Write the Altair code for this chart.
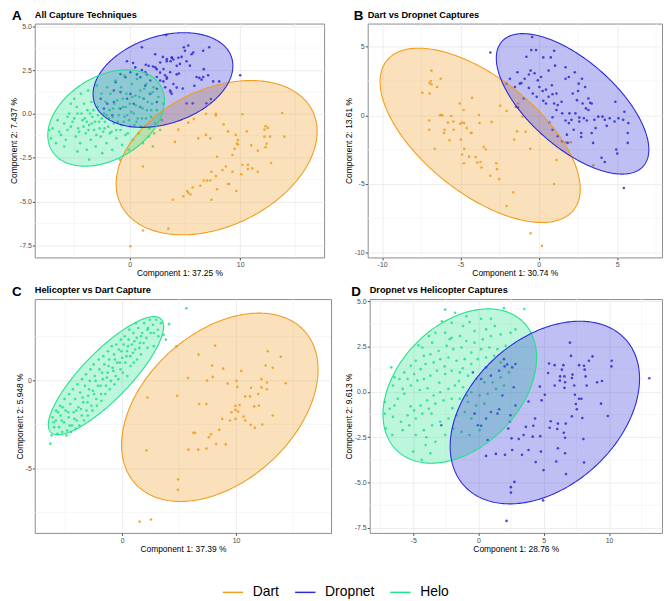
import altair as alt
import numpy as np
import pandas as pd

FONT = "Liberation Sans"
GROUPS = ["Dart", "Dropnet", "Helo"]
COLORS = ["#F39C1E", "#2C2CD8", "#22E28A"]
COLOR_OF = dict(zip(GROUPS, COLORS))

# ---------------- Panel A : All Capture Techniques ----------------
A_DART = [(13.8,0.05),(14.0,-1.3),(10.2,-0.02),(7.8,0.0),(7.8,-0.1),(12.3,-0.7),(12.2,-0.9),(12.5,-0.8),
          (8.5,-0.6),(8.9,-1.0),(10.6,-1.0),(6.9,-1.2),(7.3,-1.4),(6.2,-1.4),(9.6,-1.2),(9.8,-1.5),(9.7,-1.7),
          (9.8,-1.75),(9.5,-2.0),(12.2,-1.3),(12.7,-1.3),(12.4,-1.7),(12.3,-1.9),(11.0,-1.8),(11.6,-2.1),
          (4.1,-1.6),(9.3,-2.35),(7.9,-2.45),(10.2,-2.9),(10.7,-2.9),(11.1,-3.1),(10.7,-3.15),(10.1,-3.45),
          (8.7,-3.0),(8.4,-3.2),(9.3,-3.3),(9.0,-4.0),(11.6,-3.3),(12.8,-2.8),(7.4,-3.3),(7.8,-3.55),(6.4,-4.1),
          (6.7,-3.8),(7.0,-3.8),(7.3,-3.8),(5.7,-4.2),(7.9,-4.3),(8.9,-4.0),(9.65,-4.4),(5.2,-4.4),(5.3,-4.5),
          (4.85,-4.7),(5.5,-4.6),(3.9,-4.9),(7.4,-4.9),(3.5,-6.55),(1.2,-3.0),(1.2,-6.65),(0.06,-7.55),
          (5.3,-0.5),(4.4,-0.9),(5.8,-0.3),(6.9,0.0)]
A_DROPNET = [(3.3,4.5),(1.1,3.8),(2.3,3.4),(3.0,3.25),(3.35,3.0),(3.8,3.2),(3.95,3.1),(3.7,3.0),(4.7,3.25),
             (5.0,3.6),(5.6,3.4),(5.75,3.5),(4.9,3.8),(4.4,3.2),(5.15,3.0),(5.45,2.75),(4.55,2.85),(7.2,3.8),
             (6.65,3.6),(5.3,3.9),(-0.25,3.0),(0.3,2.9),(0.5,2.65),(1.45,2.8),(2.1,2.7),(2.45,2.55),(2.75,2.35),
             (3.2,2.2),(3.35,2.0),(3.05,1.85),(2.45,2.1),(1.55,2.25),(1.1,2.5),(0.65,2.25),(4.25,2.25),(4.45,2.3),
             (3.95,1.7),(3.7,1.25),(3.8,1.15),(4.25,1.5),(4.8,1.45),(5.7,0.6),(5.85,1.6),(6.05,2.1),(6.3,2.05),
             (6.5,1.95),(6.65,2.1),(7.1,2.2),(6.7,2.55),(7.55,1.85),(8.1,1.85),(7.35,0.85),(6.95,0.6),(5.15,0.6),
             (10.0,2.2),(-1.28,1.8),(-0.84,2.27),(-0.39,2.09),(0.06,2.37),(0.96,2.09),(1.41,2.37),(1.71,2.74),
             (2.31,2.65),(2.76,2.93),(3.36,3.12),(3.81,3.21),(4.26,2.74),(3.66,2.37),(3.06,2.56),(3.36,2.09),
             (2.76,1.9),(1.86,1.9),(1.41,1.61),(2.46,1.43),(3.21,1.52),(3.66,1.33),(1.86,1.14),(1.26,0.86),
             (0.06,1.14),(-0.84,1.24),(-1.44,1.33),(-0.24,0.86),(0.36,0.58),(0.96,0.39),(2.46,0.68),(-0.84,0.3),
             (-1.44,0.68),(-2.03,0.58),(-2.63,0.86),(-2.34,0.3),(-1.58,-0.08)]
A_HELO = [(-7.28,-0.92),(-6.98,-0.83),(-7.13,-1.39),(-6.53,-0.36),(-6.38,-1.02),(-6.23,-1.2),(-5.93,-0.55),
          (-5.78,-1.48),(-5.63,-0.92),(-5.48,0.02),(-5.33,0.58),(-5.18,-0.45),(-5.03,0.86),(-4.88,-1.3),
          (-4.73,0.02),(-4.67,-0.83),(-4.49,-1.67),(-4.43,1.15),(-4.28,-0.36),(-4.13,0.58),(-3.98,-1.11),
          (-3.89,-2.05),(-3.83,0.21),(-3.77,1.33),(-3.68,-0.64),(-3.53,-1.48),(-3.47,0.68),(-3.38,-0.17),
          (-3.23,-0.92),(-3.08,-1.86),(-2.99,1.62),(-2.93,0.39),(-2.78,-0.45),(-2.63,-1.3),(-2.57,1.15),
          (-2.49,-2.24),(-2.34,0.02),(-2.28,-0.83),(-2.19,0.68),(-2.1,-1.67),(-2.04,1.52),(-1.89,-0.26),
          (-1.8,-1.11),(-1.74,1.15),(-1.59,-2.05),(-1.5,0.3),(-1.44,-0.55),(-1.29,1.9),(-1.2,-1.39),(-1.14,0.77),
          (-0.99,-0.08),(-0.9,-2.61),(-0.84,-0.92),(-0.78,1.52),(-0.69,-1.77),(-0.6,0.39),(-0.54,-0.45),
          (-0.48,2.18),(-0.39,-1.2),(-0.3,1.15),(-0.24,-0.08),(-0.09,-2.05),(0.0,0.58),(0.06,-0.73),(0.21,1.71),
          (0.3,-1.48),(0.36,0.02),(0.51,1.05),(0.6,-0.45),(0.66,1.99),(0.81,-1.11),(0.9,0.39),(0.96,1.33),
          (1.11,-0.26),(1.2,-1.67),(1.26,0.86),(1.41,-0.73),(1.5,1.71),(1.56,0.21),(1.71,-1.3),(1.8,1.15),
          (1.92,-0.17),(2.01,0.58),(2.1,-1.86),(2.16,1.52),(2.31,-0.55),(2.46,0.21),(2.6,0.96),(2.75,-0.92),
          (2.9,-0.36),(3.05,0.58),(-5.63,-0.17),(-5.33,-0.73),(-5.03,-0.26),(-4.79,0.39),(-4.58,-1.02),
          (-4.37,0.02),(-4.19,-0.73),(-4.07,-0.26),(-3.89,-0.45),(-3.74,-0.92),(-3.59,0.02),(-3.44,-0.55),
          (-3.29,0.21),(-3.14,-0.45),(-3.02,-1.2),(-2.87,-0.08),(-2.72,-0.83),(-2.54,-0.26),(-2.4,-1.02),
          (-2.25,-0.45),(-2.1,-0.08),(-1.95,-0.73),(-1.83,0.21),(-1.65,-1.02),(-1.53,-0.17),(-1.38,0.58),
          (-1.23,-0.92),(-1.08,-0.45),(-0.93,0.3),(-0.75,-0.64),(-0.63,0.86),(-0.48,-0.17),(-0.36,0.39),
          (-0.18,-1.11),(-0.06,-0.36),(0.12,0.11),(0.24,0.96),(0.42,-0.64),(0.54,0.49),(0.72,-0.26),(0.87,0.96),
          (1.02,-0.73),(1.17,0.3),(1.32,1.43),(1.47,-0.26),(1.62,0.68),(1.77,-0.83),(1.95,0.21),(2.07,1.24),
          (2.22,-1.11),(-3.68,-2.61),(-4.73,-2.14),(-5.93,-1.86),(-6.68,-1.67)]

# ---------------- Panel B : Dart vs Dropnet ----------------
B_DART = [(-6.85,3.25),(-6.89,2.49),(-6.97,2.34),(-6.85,2.25),(-7.43,1.63),(-6.49,2.06),(-6.26,2.66),(-6.97,1.58),
          (-6.99,-0.38),(-6.99,-1.05),(-6.22,0.02),(-6.3,0.0),(-6.16,0.0),(-5.59,-0.05),(-5.8,-0.53),(-5.45,-0.45),
          (-6.01,-1.05),(-6.05,-1.29),(-6.64,-2.44),(-5.7,-1.82),(-5.43,-1.05),(-5.05,0.86),(-4.8,0.38),
          (-4.26,1.27),(-5.01,-0.62),(-4.76,-0.57),(-4.89,-0.53),(-4.59,-0.93),(-4.34,-1.29),(-4.97,-1.77),
          (-4.76,-2.44),(-4.89,-2.85),(-4.78,-3.49),(-4.45,-3.01),(-4.28,-1.29),(-3.82,0.02),(-3.78,-0.57),
          (-4.03,-3.04),(-3.92,-3.44),(-3.72,-3.4),(-3.65,-3.8),(-3.51,-2.3),(-3.38,-2.49),(-3.09,-4.4),
          (-3.01,-0.48),(-2.71,-3.49),(-2.67,-3.92),(-2.46,0.69),(-2.53,-4.64),(-2.05,0.31),(-1.38,-1.17),
          (-1.57,-1.77),(-1.04,-0.1),(-0.84,-1.2),(-2.05,-6.6),(-1.63,-5.6),(-0.54,-2.44),(-0.52,-8.59),
          (0.21,-9.5),(0.98,-5.0),(1.13,-3.25),(1.71,-1.96),(2.03,-1.96),(-1.32,0.86),(3.49,-3.64)]
B_DROPNET = [(-3.09,4.57),(-0.42,5.69),(-0.48,4.74),(-0.17,4.74),(-0.79,4.26),(-0.52,3.25),(-0.27,3.06),
             (-0.63,2.97),(-0.9,2.66),(-1.21,2.3),(-1.84,2.66),(-2.05,2.3),(-1.52,2.06),(-0.96,1.22),(-1.11,2.34),
             (-0.63,1.99),(0.29,4.21),(0.77,4.21),(0.98,4.69),(1.04,3.61),(0.63,3.25),(0.84,2.18),(0.46,1.87),
             (0.63,1.34),(0.25,1.77),(0.29,1.05),(0.46,0.86),(0.88,1.53),(1.13,1.58),(1.21,0.74),(1.46,0.98),
             (1.71,2.66),(1.92,2.78),(2.17,1.58),(2.3,3.13),(2.55,2.3),(2.76,2.66),(2.96,2.06),(2.51,1.77),
             (2.44,1.1),(2.8,0.86),(3.01,0.5),(3.17,1.22),(3.28,0.91),(3.38,0.86),(1.96,0.14),(1.5,0.14),
             (1.13,0.38),(0.98,0.86),(1.71,-0.38),(1.92,-0.57),(2.09,-0.33),(2.34,0.14),(2.59,-0.17),(2.59,-0.45),
             (2.88,-0.22),(3.07,-0.38),(3.17,0.38),(3.55,-0.33),(3.63,-0.93),(3.8,-0.1),(4.07,-0.1),(4.22,-0.33),
             (4.34,-0.77),(4.53,-0.22),(4.89,0.98),(4.84,-0.45),(5.09,-0.22),(5.39,-0.33),(5.47,0.26),(5.72,-0.57),
             (5.68,-1.29),(5.68,-2.01),(4.95,-2.49),(5.01,-2.78),(4.22,-3.4),(4.01,-3.09),(3.47,-2.01),(3.38,-1.29),
             (2.71,-1.29),(2.71,-1.58),(2.23,-1.05),(1.8,-1.41),(1.84,-2.01),(1.5,-1.89),(1.21,-1.53),(0.88,-1.05),
             (0.88,-0.14),(0.67,-0.53),(5.43,-5.29),(-1.36,3.13),(-1.46,0.62),(-1.32,0.57),(-0.06,2.54),
             (0.04,2.06),(-0.38,1.58),(-0.13,1.34),(0.15,2.78),(1.71,3.49)]

# ---------------- Panel C : Helicopter vs Dart ----------------
C_HELO = [(3.41,3.27),(3.13,2.89),(2.98,3.46),(2.7,3.18),(2.5,2.71),(2.27,2.99),(2.13,2.43),(1.93,3.27),(1.76,2.71),
          (1.56,2.14),(1.42,2.99),(1.28,2.43),(1.14,1.77),(0.99,2.71),(0.85,2.05),(0.71,1.39),(0.57,2.33),
          (0.43,1.67),(0.28,1.02),(0.14,2.05),(0.0,1.3),(-0.14,0.64),(-0.28,1.77),(-0.43,1.02),(-0.57,0.26),
          (-0.71,1.49),(-0.85,0.73),(-0.99,-0.02),(-1.14,1.2),(-1.28,0.45),(-1.42,-0.3),(-1.56,0.92),(-1.7,0.08),
          (-1.85,-0.77),(-1.99,0.64),(-2.13,-0.3),(-2.27,-1.05),(-2.41,0.26),(-2.56,-0.58),(-2.7,-1.43),
          (-2.84,-0.02),(-2.98,-0.86),(-3.13,-1.71),(-3.27,-0.3),(-3.41,-1.24),(-3.55,-1.99),(-3.69,-0.68),
          (-3.84,-1.52),(-3.98,-2.27),(-4.12,-1.05),(-4.26,-1.8),(-4.4,-2.56),(-4.55,-1.33),(-4.69,-2.09),
          (-4.83,-2.84),(-4.97,-1.71),(-5.11,-2.37),(-5.26,-2.93),(-5.4,-1.99),(-5.54,-2.65),(-5.68,-3.03),
          (-5.82,-2.27),(-5.97,-2.65),(-6.11,-2.09),(3.18,2.52),(2.78,1.96),(2.44,3.46),(2.22,1.86),(1.88,2.14),
          (1.65,1.49),(1.31,1.2),(1.19,3.27),(1.02,1.02),(0.74,0.83),(0.63,2.9),(0.45,0.26),(0.23,2.52),
          (0.06,0.45),(-0.11,2.33),(-0.34,0.08),(-0.51,2.05),(-0.68,-0.21),(-0.91,1.96),(-1.08,-0.49),
          (-1.25,1.67),(-1.48,-0.77),(-1.65,1.39),(-1.82,-1.15),(-2.05,1.2),(-2.22,-1.43),(-2.5,0.92),
          (-2.61,-1.71),(-2.78,0.64),(-3.01,-1.99),(-3.18,0.36),(-3.35,-2.27),(-3.52,0.08),(-3.75,-2.56),
          (-3.92,-0.21),(-4.09,-2.74),(-4.32,-0.49),(-4.49,-2.93),(-4.66,-0.77),(-4.89,-3.12),(-5.06,-1.05),
          (-5.23,-1.52),(-5.45,-1.43),(-5.63,-1.8),(-5.8,-1.71),(-6.02,-2.37),(-6.19,-3.12),(-6.31,-3.59),
          (-4.6,-2.56),(-4.03,-1.71),(-3.47,-0.96),(-2.9,-0.49),(-2.33,-0.02),(-1.76,0.45),(-1.19,0.83),
          (-0.63,1.2),(-0.06,1.67),(0.51,1.96),(1.08,2.24),(1.65,2.52),(2.22,2.9),(2.78,2.71),(-2.47,-0.77),
          (-1.9,-0.3),(-1.34,0.17),(-0.77,0.55),(-0.2,1.02),(0.37,1.39),(0.94,1.58),(1.51,1.86),(-3.04,-1.24),
          (-3.61,-1.62),(-4.18,-2.18),(-4.74,-1.8),(-5.31,-2.27),(5.63,4.12),(4.12,3.21),(4.77,1.96),(3.84,2.33),
          (3.64,2.61)]
C_DART = [(8.15,1.99),(6.7,1.48),(5.77,0.15),(7.44,0.0),(7.95,0.21),(7.9,0.86),(8.86,0.68),(9.26,-0.17),
          (10.03,-0.02),(10.45,0.55),(10.11,-0.36),(10.8,-0.9),(11.22,-0.9),(11.31,-0.41),(11.59,-1.47),
          (11.93,-0.77),(11.99,-1.43),(12.22,-0.39),(12.7,-0.49),(12.7,-0.11),(12.78,1.67),(12.59,0.86),
          (13.21,0.73),(13.92,1.35),(14.35,-0.15),(13.21,-1.99),(12.3,-2.5),(11.65,-2.69),(10.8,-2.27),
          (9.94,-2.18),(9.46,-2.27),(8.78,-2.18),(8.52,-2.8),(7.81,-3.06),(7.61,-3.23),(6.25,-2.97),(6.39,-2.97),
          (7.39,-3.87),(5.82,-3.93),(6.68,-3.93),(8.24,-3.61),(9.09,-3.63),(9.94,-1.67),(10.17,-1.77),
          (10.31,-1.39),(9.94,-1.43),(7.39,-1.33),(6.76,-1.33),(2.22,-0.96),(2.13,-3.97),(4.83,-0.86),
          (4.91,-5.62),(4.89,-6.22),(1.53,-8.03),(2.53,-7.91),(9.6,-1.8),(12.22,0.08),(11.28,-2.52),(10.65,-2.05)]

# ---------------- Panel D : Dropnet vs Helicopter ----------------
D_HELO = [(-2.55,4.53),(-1.8,4.35),(-0.93,4.16),(-0.68,3.84),(0.2,4.02),(0.95,4.02),(1.95,4.62),(3.5,4.56),
          (1.25,3.62),(0.58,3.44),(-0.3,3.35),(-1.18,3.62),(-2.05,3.8),(-2.8,3.89),(-3.55,2.71),(-4.3,2.44),
          (-4.6,2.56),(-3.8,3.07),(-3.3,3.25),(-2.55,3.25),(-2.05,2.98),(-1.43,3.07),(-0.93,2.8),(-0.3,2.71),
          (0.33,2.89),(0.95,3.07),(1.7,3.16),(2.45,3.25),(2.83,3.44),(2.08,2.53),(1.45,2.35),(0.83,2.44),
          (0.2,2.35),(-0.55,2.16),(-1.3,2.44),(-1.93,2.35),(-2.43,2.53),(-3.05,2.25),(-3.68,2.07),(-4.18,1.98),
          (-4.8,1.71),(-5.18,1.44),(-5.68,1.07),(-6.05,0.71),(-6.43,0.8),(-6.68,1.35),(-6.55,0.35),(-5.8,0.16),
          (-5.43,0.71),(-4.93,0.98),(-4.43,1.25),(-4.05,1.53),(-3.43,1.62),(-2.93,1.8),(-2.3,1.89),(-1.68,1.71),
          (-1.05,1.8),(-0.55,1.53),(-0.05,1.8),(0.58,1.89),(1.2,1.98),(1.7,1.62),(2.33,1.07),(1.7,0.8),
          (1.08,0.53),(0.45,0.53),(-0.18,0.71),(-0.8,0.89),(-1.43,1.07),(-2.05,1.16),(-2.55,0.98),(-3.18,1.16),
          (-3.68,0.89),(-4.18,0.71),(-4.68,0.62),(-5.18,0.35),(-5.68,-0.11),(-6.18,-0.38),(-6.43,-0.75),
          (-6.8,-0.93),(-7.18,-1.2),(-6.55,-1.38),(-5.93,-1.65),(-5.43,-1.29),(-4.93,-1.02),(-4.43,-0.75),
          (-3.93,-0.47),(-3.43,-0.2),(-2.93,-0.02),(-2.3,0.16),(-1.8,0.35),(-1.18,0.25),(-0.55,-0.02),
          (0.08,-0.2),(0.7,-0.11),(1.33,0.16),(1.95,0.35),(0.45,-0.65),(-0.18,-0.75),(-0.8,-0.56),(-1.43,-0.38),
          (-2.05,-0.38),(-2.68,-0.47),(-3.3,-0.65),(-3.8,-0.93),(-4.3,-1.2),(-4.8,-1.47),(-5.3,-1.84),
          (-5.8,-2.11),(-4.8,-2.38),(-4.18,-2.11),(-3.55,-1.84),(-2.93,-1.65),(-2.3,-1.47),(-1.68,-1.29),
          (-1.05,-1.11),(-0.55,-1.47),(0.08,-2.11),(-0.68,-2.38),(-1.3,-2.2),(-1.93,-2.02),(-2.55,-2.38),
          (-3.3,-2.75),(-4.05,-2.93),(-3.68,-3.38),(-4.35,-3.75),(-7.18,-0.56),(-7.1,-2.02),(-6.6,-2.38),
          (-5.0,-3.29),(-3.0,0.5),(-2.6,1.4),(-3.9,0.2),(-1.2,1.3),(-4.5,0.1),(-2.0,-0.9),(-3.6,-1.2),
          (-1.5,0.6),(-0.9,-0.2),(-2.2,2.9),(-5.2,-0.8),(-4.0,-2.5)]
D_DROPNET = [(7.0,2.71),(7.08,1.98),(8.73,1.95),(8.45,1.71),(8.08,1.44),(8.13,1.22),(7.7,1.47),(6.5,1.47),
             (6.38,1.22),(5.4,1.56),(5.83,1.47),(5.33,1.04),(6.25,0.85),(6.58,0.85),(7.2,0.95),(7.15,0.76),
             (6.63,0.53),(6.58,0.22),(6.23,0.62),(5.83,0.35),(4.7,0.29),(5.08,-0.16),(4.83,-0.47),(4.33,-1.47),
             (4.2,-1.87),(3.83,-0.53),(3.63,-1.93),(3.45,-2.38),(3.08,-2.6),(2.53,-2.56),(2.58,-3.2),(3.33,-3.47),
             (3.83,-3.2),(4.15,-2.47),(4.73,-2.44),(4.78,-3.29),(4.38,-3.87),(4.98,-4.31),(5.95,-3.84),(6.08,-3.11),
             (6.63,-2.53),(6.63,-3.38),(6.7,-4.53),(5.45,-1.98),(5.53,-1.62),(6.03,-2.05),(6.08,-1.75),(6.53,-2.25),
             (6.68,-1.75),(7.38,-0.16),(7.7,-0.38),(7.45,-0.67),(7.53,-0.96),(7.88,-0.38),(7.15,-1.35),(7.95,-1.44),
             (8.03,-2.6),(8.08,-3.89),(9.08,0.53),(9.45,0.6),(9.38,-0.65),(9.9,-1.33),(10.2,1.71),(10.18,1.4),
             (8.28,0.35),(7.33,0.35),(8.2,0.85),(2.75,-4.96),(2.48,-5.25),(2.48,-5.55),(4.95,-5.98),(2.15,-7.11),
             (0.58,-3.53),(1.33,-3.42),(2.03,-3.47),(2.28,-2.02),(1.58,-0.96),(0.2,-1.87),(13.08,0.75),
             (-0.43,1.07),(0.2,0.71),(0.58,1.35),(0.95,0.89),(1.95,1.8),(2.2,1.51),(2.58,1.35),(2.7,0.25),
             (2.83,-0.75),(1.83,-0.2),(1.45,-1.2),(0.95,-1.11),(0.58,-1.47),(-0.05,-1.84),(-0.3,-1.2),(2.45,-1.29),
             (2.4,-1.65),(2.83,1.53),(2.0,1.4),(1.58,1.16),(-2.85,-1.84),(0.7,-2.65)]

# Ellipse parameters: group, centre x, centre y, half-width, half-height, correlation
A_ELL = [("Dart", 7.87, -2.50, 9.10, 4.40, 0.34), ("Dropnet", 3.01, 1.93, 6.33, 2.70, 0.30),
         ("Helo", -2.14, -0.235, 5.28, 2.75, 0.36)]
B_ELL = [("Dart", -3.74, -1.46, 6.39, 6.34, -0.615), ("Dropnet", 2.16, 0.83, 4.87, 5.11, -0.65)]
C_ELL = [("Helo", -1.42, 0.28, 5.06, 3.36, 0.833), ("Dart", 8.57, -1.52, 8.62, 5.36, 0.40)]
D_ELL = [("Helo", -1.43, 0.32, 5.88, 4.25, 0.37), ("Dropnet", 5.08, -1.14, 7.25, 5.03, 0.37)]


def ellipse_frames(cx, cy, hx, hy, r, n=160):
    sxx, syy, sxy = hx * hx, hy * hy, r * hx * hy
    det = sxx * syy - sxy * sxy
    s = np.linspace(np.pi, 0, n)
    dx = hx * np.cos(s)
    root = np.sqrt(np.maximum(det * (sxx - dx * dx), 0))
    adf = pd.DataFrame({"x": cx + dx, "ylo": cy + (sxy * dx - root) / sxx, "yhi": cy + (sxy * dx + root) / sxx})
    l21 = sxy / hx
    l22 = np.sqrt(syy - l21 * l21)
    t = np.linspace(0, 2 * np.pi, 2 * n + 1)
    return adf, (cx + hx * np.cos(t), cy + l21 * np.cos(t) + l22 * np.sin(t))


CSCALE = alt.Scale(domain=GROUPS, range=COLORS)
LEGEND = alt.Legend(orient="none", legendX=189, legendY=563, direction="horizontal", title=None,
                    labelFont=FONT, labelFontSize=14, labelColor="black", symbolSize=420,
                    symbolStrokeWidth=1.5, labelOffset=9, columnPadding=12, symbolType="stroke")
MINUS = "replace(datum.label, '\u2212', '-')"


def panel(letter, letter_dx, title, groups, ells, xdom, ydom, xticks, yticks, xminor, yminor,
          xtitle, ytitle, xfmt, yfmt, width, height):
    xs = alt.Scale(domain=xdom, nice=False, zero=False)
    ys = alt.Scale(domain=ydom, nice=False, zero=False)
    xax = alt.Axis(values=xticks, format=xfmt, title=xtitle, labelExpr=MINUS)
    yax = alt.Axis(values=yticks, format=yfmt, title=ytitle, labelExpr=MINUS)
    X = lambda f: alt.X(f, scale=xs, axis=xax)
    Y = lambda f: alt.Y(f, scale=ys, axis=yax)
    layers = [
        alt.Chart(pd.DataFrame({"x": xminor})).mark_rule(color="#F2F2F2", strokeWidth=0.7).encode(x=X("x:Q")),
        alt.Chart(pd.DataFrame({"y": yminor})).mark_rule(color="#F2F2F2", strokeWidth=0.7).encode(y=Y("y:Q")),
    ]
    for g, pts in groups:
        df = pd.DataFrame(pts, columns=["x", "y"])
        layers.append(alt.Chart(df).mark_circle(size=7, opacity=0.85, color=COLOR_OF[g], clip=True).encode(
            x=X("x:Q"), y=Y("y:Q")))
    lrows = []
    for g, cx, cy, hx, hy, r in ells:
        adf, (lx, ly) = ellipse_frames(cx, cy, hx, hy, r)
        layers.append(alt.Chart(adf).mark_area(opacity=0.3, color=COLOR_OF[g], clip=True).encode(
            x=X("x:Q"), y=Y("ylo:Q"), y2="yhi:Q"))
        for k, (a, b) in enumerate(zip(lx, ly)):
            lrows.append({"x": a, "y": b, "k": k, "group": g})
    layers.append(alt.Chart(pd.DataFrame(lrows)).mark_line(strokeWidth=1.1, clip=True).encode(
        x=X("x:Q"), y=Y("y:Q"), order=alt.Order("k:Q"), detail="group:N",
        stroke=alt.Stroke("group:N", scale=CSCALE, legend=LEGEND)))
    lab = pd.DataFrame({"t": [letter], "c": [title]})
    layers.append(alt.Chart(lab).mark_text(
        align="left", baseline="alphabetic", fontSize=13.5, fontWeight="bold", font=FONT, color="black"
    ).encode(text="t:N", x=alt.value(letter_dx), y=alt.value(-3.5)))
    layers.append(alt.Chart(lab).mark_text(
        align="left", baseline="alphabetic", fontSize=9.3, fontWeight="bold", font=FONT, color="black"
    ).encode(text="c:N", x=alt.value(0), y=alt.value(-6)))
    return alt.layer(*layers).properties(width=width, height=height)


pA = panel("A", -23, "All Capture Techniques", [("Dart", A_DART), ("Dropnet", A_DROPNET), ("Helo", A_HELO)],
           A_ELL, [-8.6, 17.6], [-8.19, 5.15], [0, 10], [-7.5, -5, -2.5, 0, 2.5, 5],
           [-5, 5, 15], [-6.25, -3.75, -1.25, 1.25, 3.75],
           "Component 1: 37.25 %", "Component 2: 7.437 %", "d", ".1f", 292, 236)
pB = panel("B", -14, "Dart vs Dropnet Captures", [("Dart", B_DART), ("Dropnet", B_DROPNET)],
           B_ELL, [-10.92, 7.87], [-10.34, 6.67], [-10, -5, 0, 5], [-10, -5, 0, 5],
           [-7.5, -2.5, 2.5, 7.5], [-7.5, -2.5, 2.5],
           "Component 1: 30.74 %", "Component 2: 13.61 %", "d", "d", 297, 236)
pC = panel("C", -23, "Helicopter vs Dart Capture", [("Dart", C_DART), ("Helo", C_HELO)],
           C_ELL, [-7.67, 18.33], [-8.67, 4.64], [0, 10], [-5, 0],
           [-5, 5, 15], [-7.5, -2.5, 2.5],
           "Component 1: 37.39 %", "Component 2: 5.948 %", "d", "d", 299, 236)
pD = panel("D", -18.5, "Dropnet vs Helicopter Captures", [("Dropnet", D_DROPNET), ("Helo", D_HELO)],
           D_ELL, [-8.33, 14.05], [-7.77, 5.11], [-5, 0, 5, 10], [-7.5, -5, -2.5, 0, 2.5, 5],
           [-7.5, -2.5, 2.5, 7.5, 12.5], [-6.25, -3.75, -1.25, 1.25, 3.75],
           "Component 1: 28.76 %", "Component 2: 9.613 %", "d", ".1f", 295, 236)

chart = alt.vconcat(
    alt.hconcat(pA, pB, spacing=18),
    alt.hconcat(pC, pD, spacing=11),
    spacing=6,
).properties(padding={"top": -2, "left": 0, "right": 0, "bottom": 0}).configure_view(
    stroke="#8C8C8C", strokeWidth=1
).configure_axis(
    labelFont=FONT, labelFontSize=7, labelColor="#4D4D4D", titleFont=FONT, titleFontSize=8.5,
    titleFontWeight="normal", titleColor="black", gridColor="#E8E8E8", gridWidth=0.8,
    tickColor="#4D4D4D", tickSize=2.5, domain=False, labelPadding=1, titlePadding=1,
)

chart.save("out.html", embed_options={"renderer": "svg", "actions": False})
